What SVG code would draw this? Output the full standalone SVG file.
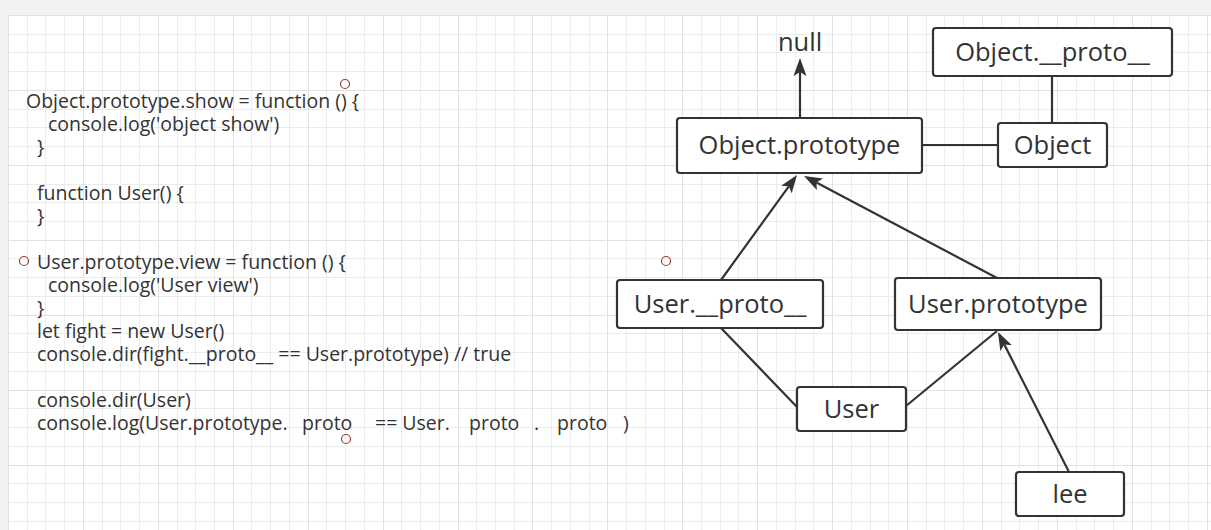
<svg xmlns="http://www.w3.org/2000/svg" width="1211" height="530" viewBox="0 0 1211 530">
  <style>
    .minor { stroke: #ececec; stroke-width: 1; fill: none; }
    .major { stroke: #e1e1e1; stroke-width: 1; fill: none; }
    .code { font-family: "Open Sans", "Noto Sans", sans-serif; font-size: 19.5px; fill: #333; }
    .box { fill: #fff; stroke: #333; stroke-width: 2.2; }
    .label { font-family: "Open Sans", "Noto Sans", sans-serif; font-size: 25.5px; fill: #333; text-anchor: middle; }
    .edge { stroke: #333; stroke-width: 2.2; fill: none; }
    .dot { fill: none; stroke: #9b3a3a; stroke-width: 1.2; }
  </style>
  <defs>
    <marker id="arrow" markerUnits="userSpaceOnUse" markerWidth="19" markerHeight="14" viewBox="0 0 19 14" refX="4" refY="7" orient="auto">
      <path d="M18,7 L0,0.5 L4,7 L0,13.5 Z" fill="#333"/>
    </marker>
  </defs>

  <!-- canvas background and grid -->
  <rect x="0" y="0" width="1211" height="530" fill="#f2f2f2"/>
  <rect x="8" y="15" width="1203" height="515" fill="#fff"/>
  <g id="grid">
    <path class="minor" d="M27.5 15V530M45.5 15V530M64.5 15V530M102.5 15V530M120.5 15V530M139.5 15V530M177.5 15V530M195.5 15V530M214.5 15V530M251.5 15V530M270.5 15V530M289.5 15V530M326.5 15V530M345.5 15V530M364.5 15V530M401.5 15V530M420.5 15V530M439.5 15V530M476.5 15V530M495.5 15V530M514.5 15V530M551.5 15V530M570.5 15V530M589.5 15V530M626.5 15V530M645.5 15V530M664.5 15V530M701.5 15V530M720.5 15V530M738.5 15V530M776.5 15V530M795.5 15V530M813.5 15V530M851.5 15V530M870.5 15V530M888.5 15V530M926.5 15V530M944.5 15V530M963.5 15V530M1001.5 15V530M1019.5 15V530M1038.5 15V530M1076.5 15V530M1094.5 15V530M1113.5 15V530M1151.5 15V530M1169.5 15V530M1188.5 15V530
      M8 34.5H1211M8 52.5H1211M8 71.5H1211M8 109.5H1211M8 127.5H1211M8 146.5H1211M8 184.5H1211M8 202.5H1211M8 221.5H1211M8 258.5H1211M8 277.5H1211M8 296.5H1211M8 333.5H1211M8 352.5H1211M8 371.5H1211M8 408.5H1211M8 427.5H1211M8 446.5H1211M8 483.5H1211M8 502.5H1211M8 521.5H1211"/>
    <path class="major" d="M8.5 15V530M83.5 15V530M158.5 15V530M233.5 15V530M308.5 15V530M383.5 15V530M458.5 15V530M532.5 15V530M607.5 15V530M682.5 15V530M757.5 15V530M832.5 15V530M907.5 15V530M982.5 15V530M1057.5 15V530M1132.5 15V530M1207.5 15V530
      M8 15.5H1211M8 90.5H1211M8 165.5H1211M8 240.5H1211M8 315.5H1211M8 390.5H1211M8 465.5H1211"/>
  </g>

  <!-- source listing -->
  <g id="code">
    <text class="code" x="26" y="108">Object.prototype.show = function () {</text>
    <text class="code" x="48" y="131">console.log('object show')</text>
    <text class="code" x="37" y="154">}</text>
    <text class="code" x="37" y="200">function User() {</text>
    <text class="code" x="37" y="223">}</text>
    <text class="code" x="37" y="269">User.prototype.view = function () {</text>
    <text class="code" x="48" y="292">console.log('User view')</text>
    <text class="code" x="37" y="315">}</text>
    <text class="code" x="37" y="338">let fight = new User()</text>
    <text class="code" x="37" y="361">console.dir(fight.__proto__ == User.prototype) // true</text>
    <text class="code" x="37" y="407">console.dir(User)</text>
    <text class="code" y="430"><tspan x="37">console.log(User.prototype.</tspan><tspan x="302">proto</tspan><tspan x="375">== User.</tspan><tspan x="469">proto</tspan><tspan x="534">.</tspan><tspan x="557">proto</tspan><tspan x="623">)</tspan></text>
  </g>

  <!-- small marker rings -->
  <g id="rings">
    <circle class="dot" cx="345" cy="84" r="4.5"/>
    <circle class="dot" cx="24" cy="261" r="4.5"/>
    <circle class="dot" cx="666" cy="261" r="4.5"/>
    <circle class="dot" cx="346" cy="439" r="4.5"/>
  </g>

  <!-- connectors -->
  <g id="connectors">
    <line class="edge" x1="800" y1="118" x2="800" y2="72" marker-end="url(#arrow)"/>
    <line class="edge" x1="922" y1="145" x2="998" y2="145"/>
    <line class="edge" x1="1052" y1="123" x2="1052" y2="76"/>
    <line class="edge" x1="721" y1="280" x2="788.8" y2="186.3" marker-end="url(#arrow)"/>
    <line class="edge" x1="997" y1="278" x2="816.4" y2="182.5" marker-end="url(#arrow)"/>
    <line class="edge" x1="721" y1="328" x2="797" y2="407"/>
    <line class="edge" x1="906" y1="406" x2="997" y2="331"/>
    <line class="edge" x1="1069" y1="472" x2="1004.3" y2="344.5" marker-end="url(#arrow)"/>
  </g>

  <!-- nodes -->
  <g id="node-null">
    <text class="label" x="800" y="51">null</text>
  </g>
  <g id="node-object-dunder-proto">
    <rect class="box" x="933" y="28" width="239" height="48" rx="3"/>
    <text class="label" x="1052.5" y="61">Object.__proto__</text>
  </g>
  <g id="node-object-prototype">
    <rect class="box" x="677" y="118" width="245" height="55" rx="3"/>
    <text class="label" x="799.5" y="154">Object.prototype</text>
  </g>
  <g id="node-object">
    <rect class="box" x="998" y="123" width="109" height="44" rx="3"/>
    <text class="label" x="1052.5" y="154">Object</text>
  </g>
  <g id="node-user-dunder-proto">
    <rect class="box" x="617" y="280" width="206" height="48" rx="3"/>
    <text class="label" x="720" y="313">User.__proto__</text>
  </g>
  <g id="node-user-prototype">
    <rect class="box" x="895" y="278" width="206" height="52" rx="3"/>
    <text class="label" x="998" y="313">User.prototype</text>
  </g>
  <g id="node-user">
    <rect class="box" x="797" y="387" width="109" height="44" rx="3"/>
    <text class="label" x="851.5" y="418">User</text>
  </g>
  <g id="node-lee">
    <rect class="box" x="1016" y="472" width="108" height="44" rx="3"/>
    <text class="label" x="1070" y="503">lee</text>
  </g>
</svg>
